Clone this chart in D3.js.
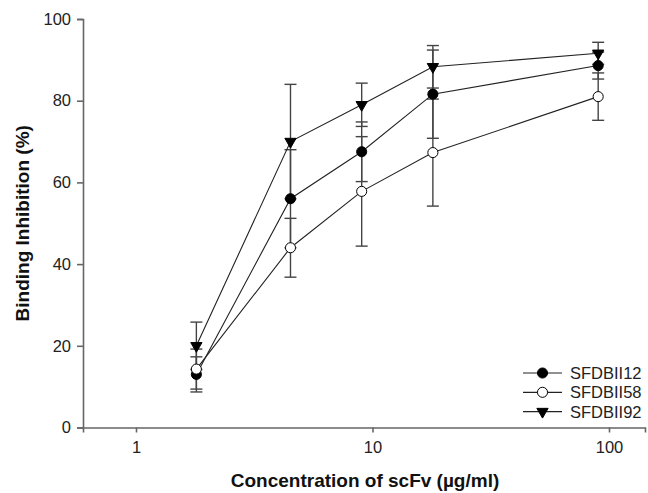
<!DOCTYPE html>
<html>
<head>
<meta charset="utf-8">
<script src="https://cdn.jsdelivr.net/npm/d3@7"></script>
<style>
  body { margin: 0; background: #fff; }
  svg { font-family: "Liberation Sans", Arial, Helvetica, sans-serif; }
  .tick text { fill: #222; font-size: 16.5px; }
  .label { font-weight: bold; font-size: 19px; fill: #111; }
</style>
</head>
<body>
<div class="svg-container"></div>
<script>
// concentrations of scFv (ug/ml)
const concentrations = [1.8, 4.5, 9, 18, 90];

// mean binding inhibition (%) and error bar half-widths per clone
const sfdbii12 = [13, 56, 67.5, 81.6, 88.6];
const err12 = [4.3, 12, 7.3, 10.8, 3.3];
const sfdbii58 = [14.3, 44, 57.8, 67.3, 81];
const err58 = [4.9, 7.2, 13.4, 13.1, 5.8];
const sfdbii92 = [20, 70, 79, 88.3, 91.6];
const err92 = [5.8, 14, 5.3, 5.2, 2.7];

const seriesNames = ['SFDBII12', 'SFDBII58', 'SFDBII92'];
const xTicks = [1, 10, 100];
const yTicks = [0, 20, 40, 60, 80, 100];

const series = [
  { name: seriesNames[0], values: sfdbii12, errors: err12, symbol: d3.symbolCircle, fill: '#000', rotate: 0, size: 80 },
  { name: seriesNames[1], values: sfdbii58, errors: err58, symbol: d3.symbolCircle, fill: '#fff', rotate: 0, size: 80 },
  { name: seriesNames[2], values: sfdbii92, errors: err92, symbol: d3.symbolTriangle, fill: '#000', rotate: 180, size: 55 },
];

// svg dimensions
const width = 648;
const height = 493;
const margin = { top: 19, right: 3, bottom: 65.5, left: 83 };

const svg = d3.select('.svg-container')
  .append('svg')
  .attr('width', width)
  .attr('height', height);

// log scale: 1 sits at 136px and 100 at 609px, axis runs past both ends
const x = d3.scaleLog().domain([1, 100]).range([136, 609]);
x.domain([x.invert(margin.left), x.invert(width - margin.right)])
  .range([margin.left, width - margin.right]);

const y = d3.scaleLinear()
  .domain([0, 100])
  .range([height - margin.bottom, margin.top]);

// axes
const xAxis = d3.axisBottom(x)
  .tickValues(xTicks)
  .tickFormat(d3.format('d'))
  .tickSizeOuter(0)
  .tickSize(5)
  .tickPadding(9);

const yAxis = d3.axisLeft(y)
  .tickValues(yTicks)
  .tickSizeOuter(0)
  .tickSize(6)
  .tickPadding(6);

const gx = svg.append('g')
  .attr('transform', `translate(0, ${height - margin.bottom})`)
  .call(xAxis);

const gy = svg.append('g')
  .attr('transform', `translate(${margin.left}, 0)`)
  .call(yAxis);

[gx, gy].forEach((g) => {
  g.selectAll('path, line').attr('stroke', '#666').attr('stroke-width', 1.6);
  g.selectAll('text').attr('font-family', null).attr('font-size', null);
});

// axis labels
svg.append('text')
  .attr('class', 'label')
  .attr('text-anchor', 'middle')
  .attr('transform', `translate(29, ${(y(0) + y(100)) / 2}) rotate(-90)`)
  .text('Binding Inhibition (%)');

svg.append('text')
  .attr('class', 'label')
  .attr('text-anchor', 'middle')
  .attr('x', 365)
  .attr('y', 487)
  .text('Concentration of scFv (\u00b5g/ml)');

const line = d3.line()
  .x((d, i) => x(concentrations[i]))
  .y((d) => y(d));

const capHalf = 6;

series.forEach((s) => {
  const g = svg.append('g');

  // error bars
  const bars = g.selectAll('.err')
    .data(s.values)
    .enter()
    .append('g')
    .attr('stroke', '#444')
    .attr('stroke-width', 1.4);

  bars.append('line')
    .attr('x1', (d, i) => x(concentrations[i]))
    .attr('x2', (d, i) => x(concentrations[i]))
    .attr('y1', (d, i) => y(d + s.errors[i]))
    .attr('y2', (d, i) => y(d - s.errors[i]));

  [1, -1].forEach((sign) => {
    bars.append('line')
      .attr('x1', (d, i) => x(concentrations[i]) - capHalf)
      .attr('x2', (d, i) => x(concentrations[i]) + capHalf)
      .attr('y1', (d, i) => y(d + sign * s.errors[i]))
      .attr('y2', (d, i) => y(d + sign * s.errors[i]));
  });
});

series.forEach((s) => {
  svg.append('path')
    .datum(s.values)
    .attr('fill', 'none')
    .attr('stroke', '#222')
    .attr('stroke-width', 1.1)
    .attr('d', line);
});

series.forEach((s) => {
  svg.append('g')
    .selectAll('path')
    .data(s.values)
    .enter()
    .append('path')
    .attr('d', d3.symbol().type(s.symbol).size(s.size))
    .attr('transform', (d, i) => `translate(${x(concentrations[i])}, ${y(d)}) rotate(${s.rotate})`)
    .attr('fill', s.fill)
    .attr('stroke', '#000')
    .attr('stroke-width', 1);
});

// legend
const legend = svg.append('g')
  .attr('transform', 'translate(523, 373)');

const rows = legend.selectAll('g')
  .data(series)
  .enter()
  .append('g')
  .attr('transform', (d, i) => `translate(0, ${i * 19.3})`);

rows.append('line')
  .attr('x1', 0)
  .attr('x2', 39)
  .attr('stroke', '#222')
  .attr('stroke-width', 1.2);

rows.append('path')
  .attr('d', (d) => d3.symbol().type(d.symbol).size(d.size)())
  .attr('transform', (d) => `translate(19.5, 0) rotate(${d.rotate})`)
  .attr('fill', (d) => d.fill)
  .attr('stroke', '#000');

rows.append('text')
  .attr('x', 47)
  .attr('dy', '0.36em')
  .attr('font-size', 16.5)
  .attr('fill', '#222')
  .text((d) => d.name);
</script>
</body>
</html>
